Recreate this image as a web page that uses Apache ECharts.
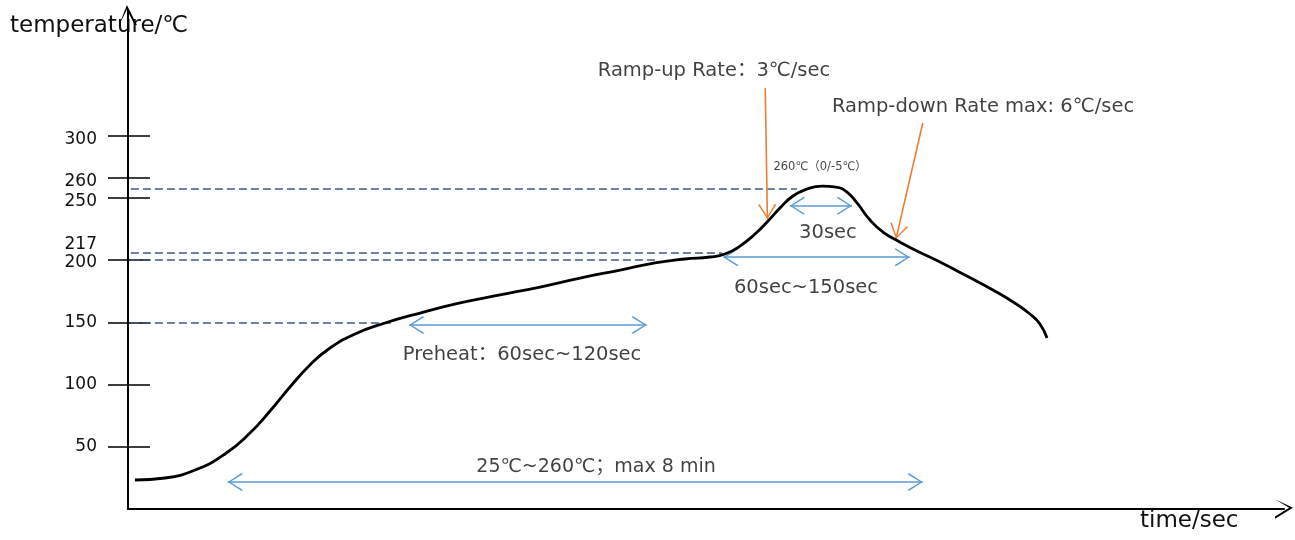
<!DOCTYPE html>
<html><head><meta charset="utf-8">
<script src="https://cdn.jsdelivr.net/npm/echarts@6/dist/echarts.min.js"></script>
<style>html,body{margin:0;padding:0;background:#fff}#c{width:1295px;height:540px}</style>
</head><body><div id="c"></div>
<script>
// Reflow profile (time in sec, temperature in ℃)
const profileTime = [4.8, 25.6, 46.4, 67.1, 84.4, 98.3, 112.1, 125.9, 139.8, 157.1, 177.9, 202.1, 229.8, 257.4, 285.1, 312.8, 340.5, 364.7, 385.5, 402.8, 413.1, 423.5, 433.9, 442.9, 451.2, 460.2, 469.9, 480.3, 490.0, 497.6, 504.5, 513.5, 523.2, 532.9, 544.6, 561.9, 580.6, 598.6, 612.5, 624.2, 631.1, 636.0];
const profileTemp = [23.3, 24.9, 31.3, 44.2, 61.0, 78.7, 98.0, 115.7, 129.3, 140.6, 149.4, 157.4, 165.5, 171.9, 178.3, 185.5, 191.9, 197.6, 200.8, 202.4, 204.8, 211.2, 220.9, 231.3, 241.8, 251.4, 257.0, 259.4, 258.6, 254.6, 245.8, 232.1, 221.7, 215.3, 208.0, 198.4, 187.1, 175.9, 166.3, 156.6, 148.6, 137.3];

// Y axis tick labels and the level where the sketch prints them
const yLabelText = ['50', '100', '150', '200', '217', '250', '260', '300'];
const yLabelLevel = [50, 100, 150, 198, 212, 247, 263, 297];
const yTickLevel = [50, 100, 150, 200, 250, 266, 300];

// Dashed guide lines (260, 217, 200, 150 ℃ as drawn) and where they stop
const guideLevel = [257.6, 206.2, 200, 150];
const guideEnd = [463, 411, 365, 183];

// Blue double arrows: 30sec, 60~150sec, preheat, whole profile
const spanStart = [458, 412, 194.5, 69];
const spanEnd = [501, 541, 359, 550];
const spanLevel = [243.5, 202.3, 147.8, 21.7];

// Orange pointer arrows: [tStart, TStart, tEnd, TEnd]
const rampUpArrow = [441, 338, 442.5, 233];
const rampDownArrow = [550, 310, 531.5, 217];

// Annotation texts
const noteText = ['Ramp-up Rate：3℃/sec', 'Ramp-down Rate max: 6℃/sec', '260℃（0/-5℃）', '30sec', '60sec~150sec', 'Preheat：60sec~120sec', '25℃~260℃；max 8 min'];
const noteTime = [405.5, 591.7, 479, 484.4, 469.2, 272.7, 323.9];
const noteTemp = [351.8, 322.9, 274.7, 221.7, 177.5, 123.7, 33.7];
const noteSize = [19.5, 19.5, 11.5, 19.5, 19.5, 19.5, 19];

const FONT = '"DejaVu Sans", "Noto Sans CJK SC", sans-serif';
const chev = 'path://M9,0 L18,14 L16.8,15 L9,2.4 L1.2,15 L0,14 Z';
const chevY = 'path://M10,0 L20,20 L17.8,20 L10,4.4 L2.2,20 Z';
const chevX = 'path://M11,0 L22,18 L19.6,18 L11,3.9 L2.4,18 Z';

const chart = echarts.init(document.getElementById('c'));

const guideLines = guideLevel.map((v, i) => [{ coord: [2, v] }, { coord: [guideEnd[i], v] }]);
const spanLines = spanLevel.map((v, i) => [{ coord: [spanStart[i], v] }, { coord: [spanEnd[i], v] }]);
const rampLines = [rampUpArrow, rampDownArrow].map(a => [{ coord: [a[0], a[1]] }, { coord: [a[2], a[3]] }]);

chart.setOption({
  animation: false,
  backgroundColor: '#fff',
  grid: { left: 128, right: 11, top: 11, bottom: 31 },
  xAxis: {
    type: 'value', min: 0, max: 800,
    axisLine: { show: true, lineStyle: { color: '#000', width: 2 }, symbol: ['none', chevX], symbolSize: [22, 18] },
    axisTick: { show: false }, axisLabel: { show: false }, splitLine: { show: false }
  },
  yAxis: [{
    type: 'value', min: 0, max: 400,
    axisLine: { show: true, lineStyle: { color: '#000', width: 2 }, symbol: ['none', chevY], symbolSize: [20, 20], symbolOffset: [0, -4] },
    axisTick: { show: true, inside: false, length: 20, lineStyle: { color: '#000', width: 1.5 }, customValues: yTickLevel },
    axisLabel: {
      show: true, margin: 31, color: '#111', fontSize: 17, fontFamily: '"DejaVu Sans", sans-serif',
      customValues: yLabelLevel,
      formatter: v => { const i = yLabelLevel.indexOf(v); return i >= 0 ? yLabelText[i] : ''; }
    },
    splitLine: { show: false }
  }, {
    type: 'value', min: 0, max: 400, position: 'left',
    axisLine: { show: false },
    axisTick: { show: true, inside: true, length: 22, lineStyle: { color: '#000', width: 1.5 }, customValues: yTickLevel },
    axisLabel: { show: false }, splitLine: { show: false }
  }],
  graphic: [
    { type: 'text', left: 10, top: 15, style: { text: 'temperature/℃', font: '23px ' + FONT, fill: '#111' } },
    { type: 'text', left: 1140, top: 510, style: { text: 'time/sec', font: '23px ' + FONT, fill: '#111' } }
  ],
  series: [
    {
      name: 'guides', type: 'line', data: [], silent: true,
      markLine: {
        silent: true, symbol: ['none', 'none'], label: { show: false },
        lineStyle: { color: '#3F5B82', width: 1.6, type: [8, 4] },
        data: guideLines
      }
    },
    {
      name: 'profile', type: 'line', smooth: 0.5, showSymbol: false, silent: true,
      lineStyle: { color: '#000', width: 2.8 },
      data: profileTime.map((t, i) => [t, profileTemp[i]]),
      z: 5
    },
    {
      name: 'spans', type: 'line', data: [], silent: true,
      markLine: {
        silent: true, symbol: [chev, chev], symbolSize: [18, 15], symbolOffset: [[0, 7.5], [0, 7.5]], label: { show: false },
        lineStyle: { color: '#5B9BD5', width: 1.6, type: 'solid' },
        data: spanLines
      }
    },
    {
      name: 'ramps', type: 'line', data: [], silent: true,
      markLine: {
        silent: true, symbol: ['none', chev], symbolSize: [18, 15], symbolOffset: [[0, 0], [0, 7.5]], label: { show: false },
        lineStyle: { color: '#ED7D31', width: 1.6, type: 'solid' },
        data: rampLines
      }
    },
    {
      name: 'notes', type: 'scatter', symbolSize: 0, silent: true,
      label: { show: true, position: 'inside', color: '#111', fontFamily: FONT, formatter: p => p.name },
      data: noteText.map((s, i) => ({ name: s, value: [noteTime[i], noteTemp[i]], label: { fontSize: noteSize[i] } }))
    }
  ]
});
</script>
</body></html>
